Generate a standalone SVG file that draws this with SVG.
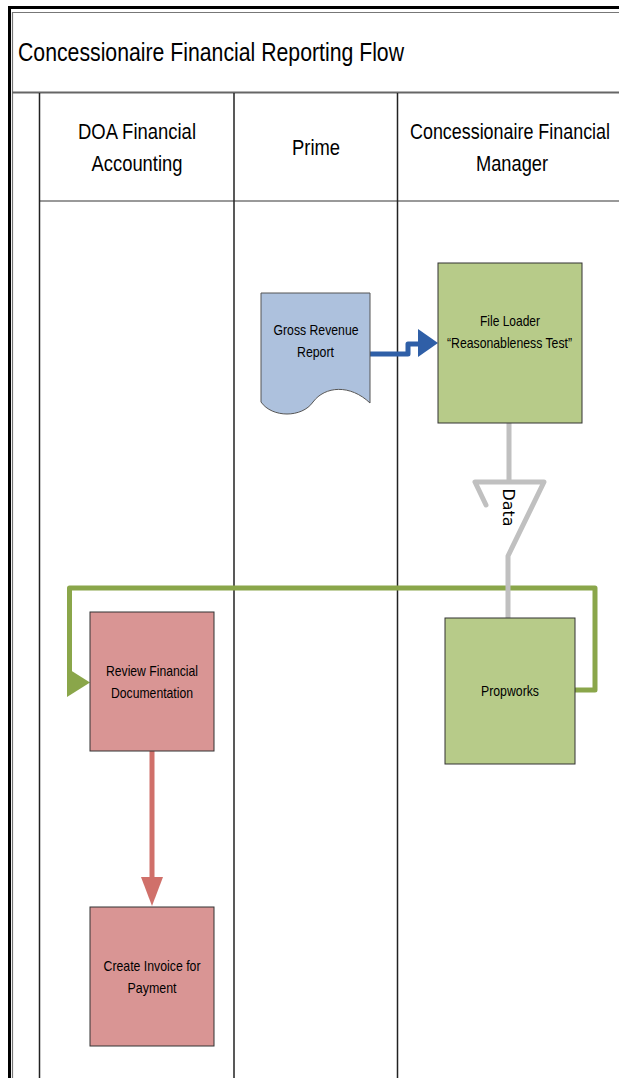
<svg xmlns="http://www.w3.org/2000/svg" width="619" height="1078" viewBox="0 0 619 1078">
<style>
  .t{font-family:"Liberation Sans Narrow","Liberation Sans",Arial,sans-serif;fill:#000;text-anchor:middle}
  .hd{font-size:22px}
  .nd{font-size:15px}
  .box{stroke:#333;stroke-width:1}
  .green{fill:#b7cb89}
  .red{fill:#d99594}
  .lane{stroke:#222;stroke-width:1.5;fill:none}
</style>
<rect x="0" y="0" width="619" height="1078" fill="#fff"/>
<g id="frame">
  <path d="M619,7.5 H9.5 V1078" fill="none" stroke="#000" stroke-width="3"/>
  <path d="M619,12.5 H12.5 V1078" fill="none" stroke="#777" stroke-width="1.2"/>
  <line x1="12" y1="92.5" x2="619" y2="92.5" stroke="#666" stroke-width="2"/>
  <line x1="40" y1="201" x2="619" y2="201" stroke="#777" stroke-width="1.5"/>
  <line class="lane" x1="39.5" y1="93" x2="39.5" y2="1078"/>
  <line class="lane" x1="234" y1="93" x2="234" y2="1078"/>
  <line class="lane" x1="397.5" y1="93" x2="397.5" y2="1078"/>
  <text class="t" x="18" y="61" font-size="25" style="text-anchor:start" textLength="386" lengthAdjust="spacingAndGlyphs">Concessionaire Financial Reporting Flow</text>
  <text class="t hd" x="137" y="139" textLength="118" lengthAdjust="spacingAndGlyphs">DOA Financial</text>
  <text class="t hd" x="137" y="171" textLength="91" lengthAdjust="spacingAndGlyphs">Accounting</text>
  <text class="t hd" x="316" y="155" textLength="48" lengthAdjust="spacingAndGlyphs">Prime</text>
  <text class="t hd" x="510" y="139" textLength="200" lengthAdjust="spacingAndGlyphs">Concessionaire Financial</text>
  <text class="t hd" x="512" y="171" textLength="72" lengthAdjust="spacingAndGlyphs">Manager</text>
</g>
<g id="connectors" fill="none" stroke-linecap="round" stroke-linejoin="round">
  <path d="M368,354 H408 V344 H420" stroke="#2f5fa7" stroke-width="5"/>
  <polygon points="418,329 418,357 438,343" fill="#2f5fa7" stroke="none"/>
  <path d="M575,690 H595 V588 H69.5 V672" stroke="#8aa64a" stroke-width="5"/>
  <polygon points="67,668 67,697 90,682.5" fill="#8aa64a" stroke="none"/>
  <path d="M509,423 V482 M486,505 L475,482 H544 L508,556 V618" stroke="#c0c0c0" stroke-width="5"/>
  <text transform="translate(503,507.5) rotate(90)" font-family="'DejaVu Sans',sans-serif" font-size="15" fill="#000" stroke="none" text-anchor="middle" textLength="38" lengthAdjust="spacingAndGlyphs">Data</text>
  <path d="M152,751 V880" stroke="#d0706a" stroke-width="5" stroke-linecap="butt"/>
  <polygon points="141,877 163,877 152,906" fill="#d0706a" stroke="none"/>
</g>
<g id="gross-revenue-report">
  <path d="M261,293 H370 V403 C350,384 325,386 313,402 C302,418 272,418 261,402 Z" fill="#adc1dd" stroke="#555" stroke-width="1"/>
  <text class="t nd" x="316" y="335" textLength="85" lengthAdjust="spacingAndGlyphs">Gross Revenue</text>
  <text class="t nd" x="315.5" y="357" textLength="37" lengthAdjust="spacingAndGlyphs">Report</text>
</g>
<g id="file-loader">
  <rect class="box green" x="438" y="263" width="144" height="160"/>
  <text class="t nd" x="510" y="326" textLength="60" lengthAdjust="spacingAndGlyphs">File Loader</text>
  <text class="t nd" x="509.5" y="348" textLength="125" lengthAdjust="spacingAndGlyphs">“Reasonableness Test”</text>
</g>
<g id="propworks">
  <rect class="box green" x="445" y="618" width="130" height="146"/>
  <text class="t nd" x="510" y="696" textLength="58" lengthAdjust="spacingAndGlyphs">Propworks</text>
</g>
<g id="review-financial-documentation">
  <rect class="box red" x="90" y="612" width="124" height="139"/>
  <text class="t nd" x="152" y="676" textLength="92" lengthAdjust="spacingAndGlyphs">Review Financial</text>
  <text class="t nd" x="152" y="698" textLength="82" lengthAdjust="spacingAndGlyphs">Documentation</text>
</g>
<g id="create-invoice">
  <rect class="box red" x="90" y="907" width="124" height="139"/>
  <text class="t nd" x="152" y="971" textLength="97" lengthAdjust="spacingAndGlyphs">Create Invoice for</text>
  <text class="t nd" x="152" y="993" textLength="49" lengthAdjust="spacingAndGlyphs">Payment</text>
</g>
</svg>
